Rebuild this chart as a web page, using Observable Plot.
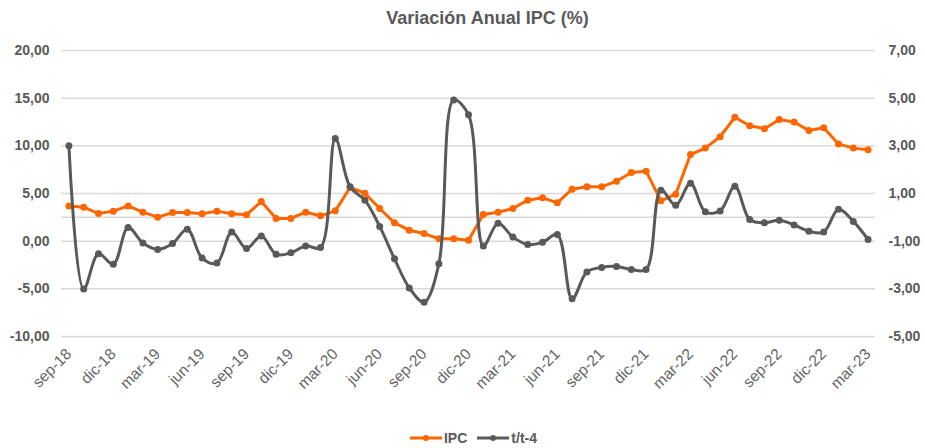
<!DOCTYPE html>
<html>
<head>
<meta charset="utf-8">
<script src="https://cdn.jsdelivr.net/npm/d3@7"></script>
<script src="https://cdn.jsdelivr.net/npm/@observablehq/plot@0.6"></script>
<style>
  html, body { margin: 0; padding: 0; background: #fff; }
  body { width: 925px; height: 448px; overflow: hidden; font-family: "Liberation Sans", Arial, sans-serif; }
  #title { height: 32px; line-height: 36px; font-size: 18px; font-weight: bold; color: #595959; text-align: center; padding-left: 50px; }
  #legend { height: 20px; display: flex; justify-content: center; align-items: center; gap: 10px; font-size: 14px; font-weight: bold; color: #595959; padding-left: 22px; }
  #legend .item { display: flex; align-items: center; gap: 2px; }
  svg { display: block; }
</style>
</head>
<body>
<div id="title">Variación Anual IPC (%)</div>
<div id="chart"></div>
<div id="legend"></div>
<script>
// Monthly categories sep-18 .. mar-23 (55 months)
const months = ["sep-18","oct-18","nov-18","dic-18","ene-19","feb-19","mar-19","abr-19","may-19","jun-19","jul-19","ago-19",
  "sep-19","oct-19","nov-19","dic-19","ene-20","feb-20","mar-20","abr-20","may-20","jun-20","jul-20","ago-20",
  "sep-20","oct-20","nov-20","dic-20","ene-21","feb-21","mar-21","abr-21","may-21","jun-21","jul-21","ago-21",
  "sep-21","oct-21","nov-21","dic-21","ene-22","feb-22","mar-22","abr-22","may-22","jun-22","jul-22","ago-22",
  "sep-22","oct-22","nov-22","dic-22","ene-23","feb-23","mar-23"];

// IPC (left axis, %)
const ipc = [3.70,3.57,2.90,3.15,3.70,3.04,2.52,3.00,3.00,2.87,3.15,2.87,2.77,4.16,2.38,2.38,3.04,2.66,3.18,5.63,
  5.03,3.43,1.92,1.15,0.80,0.25,0.25,0.10,2.80,3.04,3.43,4.30,4.55,4.02,5.45,5.70,5.70,6.29,7.20,7.34,
  4.23,4.93,9.09,9.76,10.95,13.00,12.10,11.80,12.76,12.50,11.60,11.90,10.20,9.76,9.58];

// t/t-4 (right axis)
const tt4 = [3.00,-3.01,-1.53,-1.97,-0.43,-1.08,-1.35,-1.10,-0.50,-1.71,-1.92,-0.62,-1.31,-0.78,-1.55,-1.49,-1.20,-1.27,3.31,1.28,
  0.72,-0.38,-1.74,-2.96,-3.56,-1.95,4.92,4.30,-1.20,-0.25,-0.83,-1.14,-1.05,-0.72,-3.42,-2.29,-2.10,-2.06,-2.19,-2.19,
  1.14,0.51,1.43,0.23,0.27,1.30,-0.09,-0.23,-0.12,-0.32,-0.58,-0.62,0.34,-0.17,-0.93];

// Axis ticks
const leftTicks = [-10,-5,0,5,10,15,20];
const rightTicks = [-5,-3,-1,1,3,5,7];
const xTickLabels = ["sep-18","dic-18","mar-19","jun-19","sep-19","dic-19","mar-20","jun-20","sep-20","dic-20",
  "mar-21","jun-21","sep-21","dic-21","mar-22","jun-22","sep-22","dic-22","mar-23"];

const seriesNames = ["IPC","t/t-4"];
const colors = ["#FF6600","#595959"];

// Right axis [-5,7] maps linearly onto left axis [-10,20]
const leftDom = [-10, 20], rightDom = [-5, 7];
const toLeft = r => leftDom[0] + (r - rightDom[0]) * (leftDom[1]-leftDom[0])/(rightDom[1]-rightDom[0]);
const toRight = l => rightDom[0] + (l - leftDom[0]) * (rightDom[1]-rightDom[0])/(leftDom[1]-leftDom[0]);

const rows = months.map((m, i) => ({i, m, ipc: ipc[i], tt: toLeft(tt4[i])}));
const xTicks = xTickLabels.map(l => months.indexOf(l));
const fmt = v => (Math.round(v*100)/100).toFixed(2).replace(".", ",");

const axisStyle = {fill: "#595959", fontSize: 14};

const chart = Plot.plot({
  width: 925,
  height: 396,
  marginLeft: 61,
  marginRight: 50,
  marginTop: 18,
  marginBottom: 92,
  style: {fontFamily: "'Liberation Sans', Arial, sans-serif", background: "#fff"},
  x: {domain: [-0.5, months.length - 0.5]},
  y: {domain: leftDom},
  marks: [
    Plot.gridY(leftTicks, {stroke: "#d9d9d9", strokeOpacity: 1, strokeWidth: 1.5}),
    Plot.gridY([toLeft(0)], {stroke: "#d9d9d9", strokeOpacity: 1, strokeWidth: 1.5}),
    Plot.axisY({ticks: leftTicks, tickSize: 0, tickPadding: 12, tickFormat: fmt, fontWeight: "bold", label: null, ...axisStyle}),
    Plot.axisY({anchor: "right", ticks: rightTicks.map(toLeft), tickSize: 0, tickPadding: 13,
      tickFormat: d => fmt(toRight(d)), fontWeight: "bold", label: null, ...axisStyle}),
    Plot.axisX({ticks: xTicks, tickSize: 0, tickPadding: 15, tickRotate: -45,
      tickFormat: d => months[d], label: null, fill: "#666666", fontSize: 15.5}),
    Plot.line(rows, {x: "i", y: "ipc", stroke: colors[0], strokeWidth: 3}),
    Plot.dot(rows, {x: "i", y: "ipc", r: 3.5, fill: colors[0]}),
    Plot.line(rows, {x: "i", y: "tt", stroke: colors[1], strokeWidth: 3, curve: "catmull-rom"}),
    Plot.dot(rows, {x: "i", y: "tt", r: 3.5, fill: colors[1]})
  ]
});
document.getElementById("chart").appendChild(chart);

// Legend
const legend = document.getElementById("legend");
seriesNames.forEach((name, k) => {
  const item = document.createElement("div");
  item.className = "item";
  item.innerHTML = `<svg width="32" height="10"><line x1="0" y1="5" x2="32" y2="5" stroke="${colors[k]}" stroke-width="3"/><circle cx="16" cy="5" r="3" fill="${colors[k]}"/></svg><span>${name}</span>`;
  legend.appendChild(item);
});
</script>
</body>
</html>
